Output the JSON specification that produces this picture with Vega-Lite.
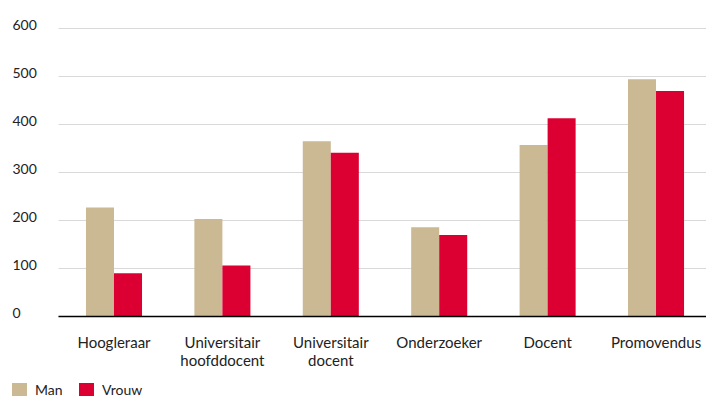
{
  "$schema": "https://vega.github.io/schema/vega-lite/v6.json",
  "width": 654,
  "height": 288,
  "autosize": {"type": "none"},
  "padding": {"left": 58, "top": 28, "right": 0, "bottom": 80},
  "background": "white",
  "config": {
    "view": {"stroke": null},
    "font": "Lato",
    "axis": {"labelFont": "Lato", "labelFontSize": 14, "labelColor": "#222222"},
    "legend": {"labelFont": "Lato", "labelFontSize": 14, "labelColor": "#222222"}
  },
  "data": {
    "values": [
      {"functie": "Hoogleraar", "geslacht": "Man", "aantal": 226},
      {"functie": "Hoogleraar", "geslacht": "Vrouw", "aantal": 89},
      {"functie": "Universitair hoofddocent", "geslacht": "Man", "aantal": 202},
      {"functie": "Universitair hoofddocent", "geslacht": "Vrouw", "aantal": 105},
      {"functie": "Universitair docent", "geslacht": "Man", "aantal": 364},
      {"functie": "Universitair docent", "geslacht": "Vrouw", "aantal": 340},
      {"functie": "Onderzoeker", "geslacht": "Man", "aantal": 185},
      {"functie": "Onderzoeker", "geslacht": "Vrouw", "aantal": 169},
      {"functie": "Docent", "geslacht": "Man", "aantal": 356},
      {"functie": "Docent", "geslacht": "Vrouw", "aantal": 412},
      {"functie": "Promovendus", "geslacht": "Man", "aantal": 493},
      {"functie": "Promovendus", "geslacht": "Vrouw", "aantal": 469}
    ]
  },
  "mark": {"type": "bar"},
  "encoding": {
    "x": {
      "field": "functie",
      "type": "nominal",
      "sort": null,
      "scale": {"paddingInner": 0.483, "paddingOuter": 0.258},
      "axis": {
        "title": null,
        "labelAngle": 0,
        "ticks": false,
        "tickSize": 0,
        "labelPadding": 19,
        "labelFontSize": 15,
        "labelExpr": "split(datum.label, ' ')",
        "labelLineHeight": 18,
        "domainColor": "#000000",
        "domainWidth": 1.5,
        "grid": false,
        "zindex": 2
      }
    },
    "xOffset": {"field": "geslacht", "type": "nominal", "sort": ["Man", "Vrouw"]},
    "y": {
      "field": "aantal",
      "type": "quantitative",
      "scale": {"domain": [0, 600], "nice": false},
      "axis": {
        "title": null,
        "values": [0, 100, 200, 300, 400, 500, 600],
        "domain": false,
        "ticks": false,
        "tickSize": 0,
        "labelAlign": "left",
        "labelPadding": 46,
        "labelOffset": -3,
        "gridColor": "#d9d9d9",
        "gridWidth": 1
      }
    },
    "color": {
      "field": "geslacht",
      "type": "nominal",
      "scale": {"domain": ["Man", "Vrouw"], "range": ["#cab993", "#dc0032"]},
      "legend": {
        "title": null,
        "orient": "none",
        "direction": "horizontal",
        "legendX": -46,
        "legendY": 355,
        "symbolType": "square",
        "symbolSize": 225,
        "symbolStrokeWidth": 0,
        "labelOffset": 8,
        "columnPadding": 16
      }
    }
  }
}
